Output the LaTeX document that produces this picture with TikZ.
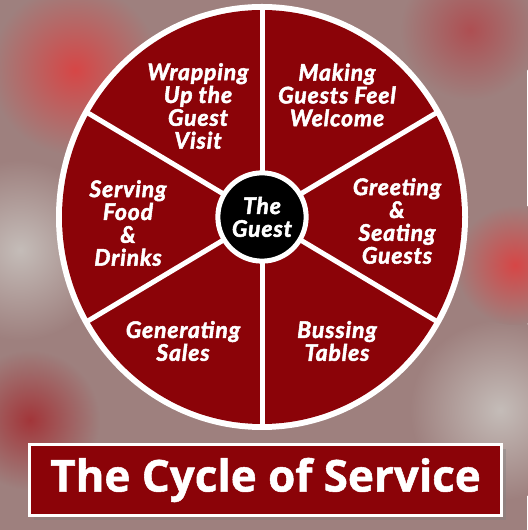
\documentclass[tikz,border=0pt]{standalone}
\usepackage{fontspec}
\setmainfont{Open Sans}[BoldFeatures={FakeBold=1.2}]
\newfontfamily\wheelfont{Lato}[BoldItalicFeatures={FakeBold=2.2,LetterSpace=4}]
\usetikzlibrary{shadows}
\definecolor{wheelred}{RGB}{139,3,8}
\definecolor{backdrop}{RGB}{158,128,126}
\definecolor{blobred}{RGB}{214,70,70}
\definecolor{blobgrey}{RGB}{196,188,184}
\tikzset{
  segment/.style={text=white, align=center, font=\wheelfont\bfseries\itshape\fontsize{13}{13}\selectfont},
  spoke/.style={white, line width=0.1cm},
  blob/.style={inner color=#1, outer color=backdrop},
}

\begin{document}
\begin{tikzpicture}[x=0.02cm,y=0.02cm]
     \useasboundingbox (0,0) rectangle (527,530);
     % blurred backdrop
     \fill[backdrop] (0,0) rectangle (527,530);
     \shade[blob=blobgrey] (20,280) circle (90);
     \shade[blob=blobgrey] (500,120) circle (90);
     \shade[blob=blobred] (75,460) circle (85);
     \shade[blob=blobred] (515,265) circle (60);
     \shade[blob=wheelred!80] (30,110) circle (70);
     \shade[blob=wheelred!70] (470,500) circle (70);

     % the wheel
     \coordinate (hub) at (262,313);
     \fill[white] (hub) ellipse (206 and 213);
     \fill[wheelred] (hub) ellipse (200 and 207);
     \foreach \a in {90,30,-30,-90,-150,150}
       \draw[spoke] (hub) -- ([shift={(hub)}]\a:203 and 210);
     \node[circle, fill=black, draw=white, line width=0.1cm, minimum size=1.72cm, segment] (guest) at (hub) {The\\Guest};

     \node[segment] (wrapping) at (198,424) {Wrapping\\Up the\\Guest\\Visit};
     \node[segment] (welcome) at (337,435) {Making\\Guests Feel\\Welcome};
     \node[segment] (greeting) at (397,309) {Greeting\\\&\\Seating\\Guests};
     \node[segment] (bussing) at (337,189) {Bussing\\Tables};
     \node[segment] (sales) at (183,189) {Generating\\Sales};
     \node[segment] (serving) at (128,307) {Serving\\Food\\\&\\Drinks};

     % title bar
     \node[draw=white, line width=0.06cm, fill=wheelred, drop shadow={opacity=0.4},
           minimum width=9.44cm, minimum height=1.42cm, text=white,
           font=\bfseries\fontsize{25}{27}\selectfont] (title) at (265.5,50) {The Cycle of Service};
\end{tikzpicture}
\end{document}
